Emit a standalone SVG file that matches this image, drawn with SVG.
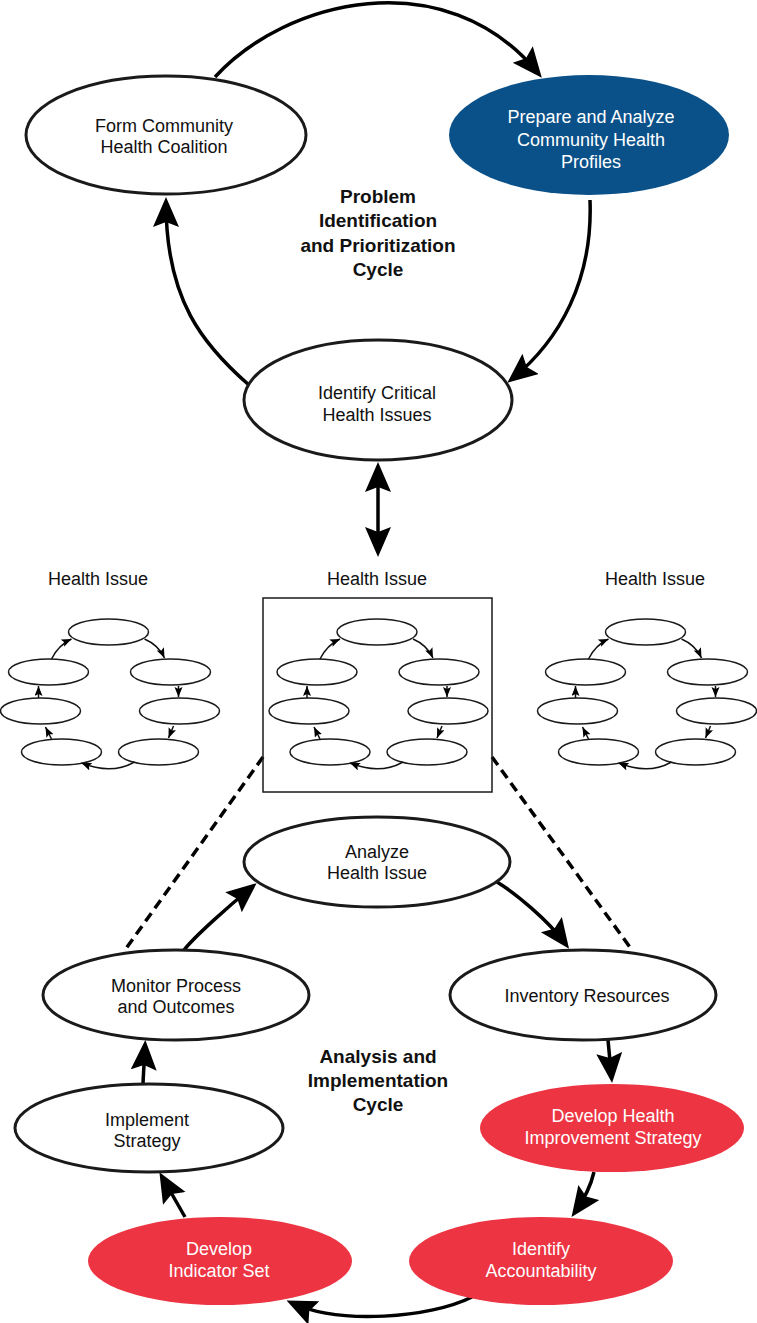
<svg xmlns="http://www.w3.org/2000/svg" xmlns:xlink="http://www.w3.org/1999/xlink" width="757" height="1323" viewBox="0 0 757 1323">
<style>
text{font-family:"Liberation Sans",Arial,sans-serif;font-size:18px;fill:#111;text-anchor:middle}
.w{fill:#fff}
.b{font-weight:bold;font-size:19px}
.node{fill:#fff;stroke:#1a1a1a;stroke-width:3}
.blue{fill:#0a5189}
.red{fill:#ec3442}
.arr{fill:none;stroke:#000;stroke-width:3.5;marker-end:url(#ah)}
.dash{fill:none;stroke:#000;stroke-width:3.5;stroke-dasharray:10 6}
.mn{fill:#fff;stroke:#1a1a1a;stroke-width:1.5}
.ma{fill:none;stroke:#111;stroke-width:1.5;marker-end:url(#mh)}
</style>
<defs>
<marker id="ah" markerUnits="userSpaceOnUse" markerWidth="32" markerHeight="28" refX="24" refY="13" orient="auto-start-reverse" viewBox="0 0 32 28">
<path d="M0,0 L30,13 L0,26 L5,13 z" fill="#000"/>
</marker>
<marker id="mh" markerUnits="userSpaceOnUse" markerWidth="12" markerHeight="10" refX="10" refY="4" orient="auto" viewBox="0 0 12 10">
<path d="M0,0 L10,4 L0,8 L2,4 z" fill="#000"/>
</marker>
<g id="miniCycle">
<ellipse class="mn" cx="377" cy="632" rx="40" ry="13"/>
<ellipse class="mn" cx="439" cy="672" rx="40" ry="13"/>
<ellipse class="mn" cx="448" cy="711" rx="40" ry="13"/>
<ellipse class="mn" cx="427" cy="752" rx="40" ry="13"/>
<ellipse class="mn" cx="317" cy="672" rx="40" ry="13"/>
<ellipse class="mn" cx="309" cy="711" rx="40" ry="13"/>
<ellipse class="mn" cx="330" cy="752" rx="40" ry="13"/>
<path class="ma" d="M413,639 Q427,645 433,658"/>
<path class="ma" d="M447,686 L447,697"/>
<path class="ma" d="M442,726 L437,738"/>
<path class="ma" d="M403,762 Q380,775 350,763"/>
<path class="ma" d="M320,739 L314,727"/>
<path class="ma" d="M307,698 L307,686"/>
<path class="ma" d="M320,659 Q327,645 340,639"/>
</g>
</defs>
<rect width="757" height="1323" fill="#fff"/>

<g id="connectors">
<path class="arr" d="M215,77 C285,0 445,-40 538,73"/>
<path class="arr" d="M590,200 C593,280 560,340 512,379"/>
<path class="arr" d="M249,385 C203,345 166,300 166,203"/>
<path class="arr" d="M378,468 L378,551" style="marker-start:url(#ah)"/>
<path class="dash" d="M263,757 L125,950"/>
<path class="dash" d="M492,757 L632,950"/>
<path class="arr" d="M184,950 C195,936 229,906 252,887"/>
<path class="arr" d="M497,882 C515,893 548,920 565.5,944"/>
<path class="arr" d="M608,1040 L611.5,1077"/>
<path class="arr" d="M594,1172 C591,1185 585,1198 575,1212"/>
<path class="arr" d="M472,1297 C430,1318 340,1325 292,1303"/>
<path class="arr" d="M185,1217 L162.4,1177.5"/>
<path class="arr" d="M143,1083 L145,1046"/>
</g>

<g id="form-coalition">
<ellipse class="node" cx="166" cy="135" rx="140" ry="59"/>
<text x="164" y="132">Form Community</text>
<text x="164" y="153">Health Coalition</text>
</g>
<g id="prepare-profiles">
<ellipse class="blue" cx="589" cy="135" rx="140" ry="60"/>
<text class="w" x="591" y="123">Prepare and Analyze</text>
<text class="w" x="591" y="146">Community Health</text>
<text class="w" x="591" y="168">Profiles</text>
</g>
<g id="identify-issues">
<ellipse class="node" cx="378" cy="400" rx="134" ry="60"/>
<text x="377" y="399">Identify Critical</text>
<text x="377" y="421">Health Issues</text>
</g>
<g id="cycle1-label">
<text class="b" x="378" y="203">Problem</text>
<text class="b" x="378" y="227">Identification</text>
<text class="b" x="378" y="252">and Prioritization</text>
<text class="b" x="378" y="276">Cycle</text>
</g>

<g id="issue-left">
<text x="98" y="585">Health Issue</text>
<use xlink:href="#miniCycle" href="#miniCycle" transform="translate(-268.5,0)"/>
</g>
<g id="issue-center">
<text x="377" y="585">Health Issue</text>
<rect x="263" y="598" width="229" height="194" fill="none" stroke="#1a1a1a" stroke-width="1.5"/>
<use xlink:href="#miniCycle" href="#miniCycle"/>
</g>
<g id="issue-right">
<text x="655" y="585">Health Issue</text>
<use xlink:href="#miniCycle" href="#miniCycle" transform="translate(268.5,0)"/>
</g>

<g id="analyze-issue">
<ellipse class="node" cx="377" cy="862" rx="133" ry="45"/>
<text x="377" y="858">Analyze</text>
<text x="377" y="879">Health Issue</text>
</g>
<g id="monitor">
<ellipse class="node" cx="176" cy="995" rx="133" ry="45"/>
<text x="176" y="992">Monitor Process</text>
<text x="176" y="1013">and Outcomes</text>
</g>
<g id="inventory">
<ellipse class="node" cx="583" cy="995" rx="133" ry="45"/>
<text x="587" y="1002">Inventory Resources</text>
</g>
<g id="implement">
<ellipse class="node" cx="149" cy="1128" rx="134" ry="44"/>
<text x="147" y="1126">Implement</text>
<text x="147" y="1147">Strategy</text>
</g>
<g id="develop-strategy">
<ellipse class="red" cx="612" cy="1128" rx="132" ry="44"/>
<text class="w" x="613" y="1122">Develop Health</text>
<text class="w" x="613" y="1144">Improvement Strategy</text>
</g>
<g id="accountability">
<ellipse class="red" cx="541" cy="1261" rx="132" ry="44"/>
<text class="w" x="541" y="1255">Identify</text>
<text class="w" x="541" y="1277">Accountability</text>
</g>
<g id="indicator-set">
<ellipse class="red" cx="220" cy="1261" rx="132" ry="44"/>
<text class="w" x="219" y="1255">Develop</text>
<text class="w" x="219" y="1277">Indicator Set</text>
</g>
<g id="cycle2-label">
<text class="b" x="378" y="1063">Analysis and</text>
<text class="b" x="378" y="1087">Implementation</text>
<text class="b" x="378" y="1111">Cycle</text>
</g>
</svg>
